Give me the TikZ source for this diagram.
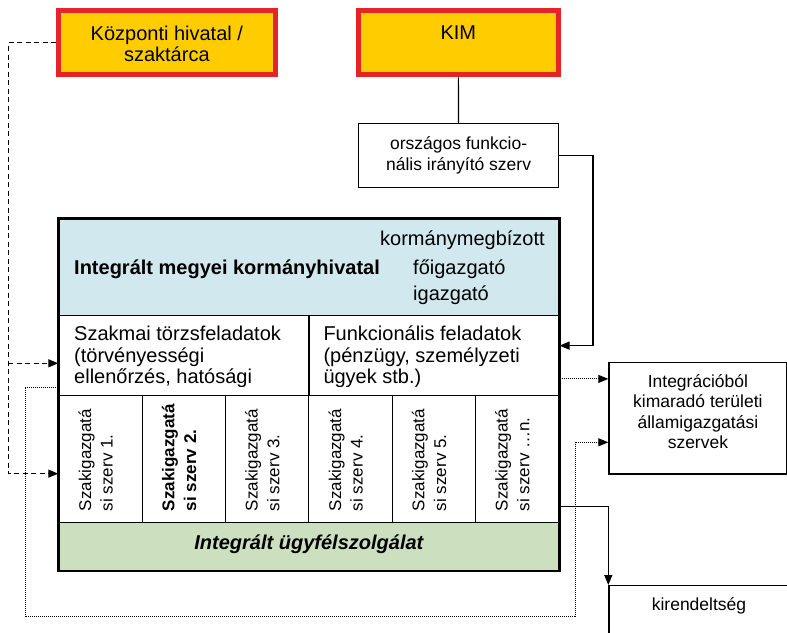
\documentclass[tikz,border=0pt]{standalone}
\usepackage{fontspec}
\setmainfont{Liberation Sans}
\usetikzlibrary{arrows.meta,positioning,calc}
\definecolor{hivyellow}{RGB}{255,204,0}
\definecolor{hivred}{RGB}{230,36,40}
\definecolor{headblue}{RGB}{208,232,238}
\definecolor{servgreen}{RGB}{204,224,192}
\newcommand{\bigfont}{\fontsize{20}{21.5}\selectfont}
\newcommand{\smallfont}{\fontsize{17.5}{20.3}\selectfont}
\newcommand{\rotfont}{\fontsize{17}{21.7}\selectfont}

\begin{document}
\begin{tikzpicture}[x=1pt, y=-1pt, font=\bigfont,
    topbox/.style={draw=hivred, fill=hivyellow, line width=5pt, minimum height=64pt, anchor=north west},
    plainbox/.style={draw, line width=1.2pt, anchor=north west, inner sep=0pt},
    cell/.style={plainbox, minimum width=83.33pt, minimum height=126.7pt},
    rottext/.style={rotate=90, anchor=north west, align=left, inner sep=0pt},
    link/.style={line width=1.2pt},
    dashlink/.style={line width=1.2pt, dash pattern=on 5pt off 3.5pt},
    dotlink/.style={line width=1pt, dash pattern=on 1pt off 1pt},
    arr/.style={-{Triangle[length=10pt,width=8pt]}}]
    \useasboundingbox (0,0) rectangle (787,632);

    % ministries
    \node[topbox, minimum width=216.7pt] (kozp) at (56,8.3) {};
    \node[topbox, minimum width=199.7pt] (kim) at (356,8.3) {};
    \node[anchor=base, align=center, inner sep=0pt] at ([yshift=-53.4pt]kozp.north) {Központi hivatal /\\szaktárca};
    \node[anchor=base, inner sep=0pt] at ([yshift=-31pt]kim.north) {KIM};
    \node[plainbox, minimum width=200pt, minimum height=63.7pt, font=\smallfont, align=center] (orsz) at (358,123) {országos funkcio-\\nális irányító szerv};

    % government office
    \node[plainbox, fill=headblue, minimum width=500pt, minimum height=96.7pt] (head) at (58.3,218.3) {};
    \node[anchor=base west, inner sep=0pt, font=\bigfont\bfseries] at (74,274.3) {Integrált megyei kormányhivatal};
    \node[anchor=base west, inner sep=0pt] at (380,245.7) {kormánymegbízott};
    \node[anchor=base west, inner sep=0pt] at (413,274.3) {főigazgató};
    \node[anchor=base west, inner sep=0pt] at (413,300.7) {igazgató};

    \node[plainbox, minimum width=250pt, minimum height=80pt] (szak) at (58.3,315) {};
    \node[plainbox, minimum width=250pt, minimum height=80pt] (funk) at (308.3,315) {};
    \begin{scope}
        \clip (szak.north west) rectangle ([yshift=10pt]funk.south east);
        \node[anchor=base west, align=left, inner sep=0pt] at (74,383.5) {Szakmai törzsfeladatok\\(törvényességi\\ellenőrzés, hatósági};
        \node[anchor=base west, align=left, inner sep=0pt] at (323.3,383.5) {Funkcionális feladatok\\(pénzügy, személyzeti\\ügyek stb.)};
    \end{scope}

    \foreach \i/\fnt/\nr in {1/\mdseries/1., 2/\bfseries/2., 3/\mdseries/3., 4/\mdseries/4., 5/\mdseries/5., 6/\mdseries/…n.} {
        \node[cell] (c\i) at ({58.3+83.33*(\i-1)},395) {};
        \node[rottext, font=\rotfont\fnt] at ([xshift=20pt,yshift=11.7pt]c\i.south west) {Szakigazgatá\\si szerv \nr};
    }

    \node[plainbox, fill=servgreen, minimum width=500pt, minimum height=47.8pt] (serv) at (58.3,521.7) {};
    \node[font=\bigfont\bfseries\itshape, inner sep=0pt] at ([yshift=2pt]serv.center) {Integrált ügyfélszolgálat};
    \draw[line width=2pt] (head.north west) rectangle (serv.south east);

    % outside the integration
    \node[plainbox, minimum width=178pt, minimum height=111.6pt] (integ) at (608.3,361.7) {};
    \node[font=\smallfont, align=center, inner sep=0pt] at ([yshift=6.5pt]integ.center) {Integrációból\\kimaradó területi\\államigazgatási\\szervek};
    \node[plainbox, minimum width=200pt, minimum height=60pt] (kiren) at (608.3,585) {};
    \node[anchor=base, font=\smallfont, inner sep=0pt] at (699,610.7) {kirendeltség};

    % connectors
    \draw[link] (kim.south) -- (orsz.north);
    \draw[link, arr] (orsz.east) -- ++(33.7,0) |- ([yshift=10pt]funk.east);

    \coordinate (dl) at (8.3,0);
    \coordinate (szakin) at ([yshift=-7.7pt]szak.west);
    \draw[dashlink, arr] (kozp.west) -- (kozp.west -| dl) |- ([yshift=-14.7pt]c1.west);
    \draw[dashlink, arr] (szakin -| dl) -- (szakin);

    \coordinate (szakout) at ([yshift=-31.7pt]szak.west);
    \coordinate (dotl) at (25,616.7);
    \coordinate (dotr) at (575,616.7);
    \draw[dotlink, arr] (szakout) -| (dotl) -- (dotr) |- ([yshift=-24.2pt]integ.west);
    \draw[dotlink, arr] ([yshift=-23.3pt]funk.east) -- ([yshift=-23.3pt]funk.east -| integ.west);

    \draw[link, arr] ([yshift=-47.7pt]c6.east) -| (kiren.north west);
\end{tikzpicture}
\end{document}
